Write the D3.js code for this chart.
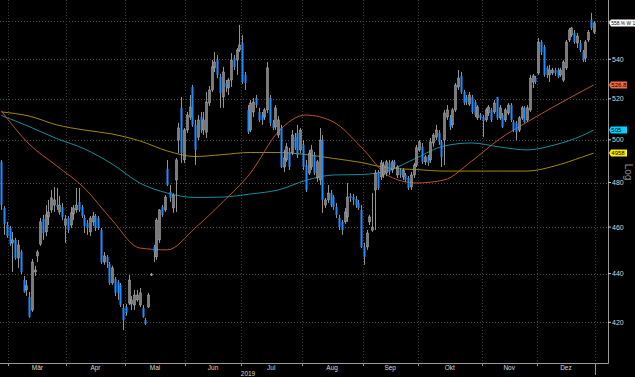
<!DOCTYPE html>
<html>
<head>
<meta charset="utf-8">
<script src="https://cdn.jsdelivr.net/npm/d3@7"></script>
<style>
  html, body { margin: 0; padding: 0; background: #000; overflow: hidden; }
  text { font-family: "Liberation Sans", Arial, sans-serif; }
</style>
</head>
<body>
<div id="chart"></div>
<script>
// Frame
const width = 635, height = 377;
const plotRight = 608, plotBottom = 363;

// Month labels and the trading-day index of the first session of each month (0 = 1 Mar 2019)
const months = ["Mär", "Apr", "Mai", "Jun", "Jul", "Aug", "Sep", "Okt", "Nov", "Dez"];
const monthStart = [0, 21, 42, 64, 84, 106, 128, 148, 171, 191, 212];
const firstDay = -3;

// Daily candles [open, high, low, close], one small array per month
const ohlcFeb = [[489.6,490.5,467.6,469.8],[468.5,469.4,456.6,461.4],[460.9,462.3,455.3,456.1]];
const ohlcMar = [
  [459.6,460.5,451.8,452.6],[453.1,457.9,440.7,454.4],[454.4,455.3,445.8,446.6],[446.6,454.4,442.4,452.2],
  [449.2,450.1,439.8,440.7],[437.3,439.0,432.0,432.4],[433.2,437.3,430.7,434.9],[430.3,432.4,421.8,422.2],
  [425.0,446.2,424.2,444.9],[440.7,443.3,439.0,441.5],[447.5,450.1,444.9,449.2],[452.6,464.0,451.8,462.3],
  [463.6,465.4,454.4,457.4],[457.9,469.8,456.1,465.4],[464.5,472.1,460.9,466.7],[467.6,476.6,466.3,473.0],
  [469.8,478.0,466.7,472.1],[469.8,477.5,467.6,468.9],[466.7,473.9,465.4,469.8],[468.9,470.7,463.1,464.5],
  [460.9,465.4,453.1,463.6]];
const ohlcApr = [
  [464.0,464.9,457.4,458.7],[460.9,468.9,459.6,466.3],[465.8,469.8,463.1,468.5],[467.6,477.5,466.3,469.8],
  [471.2,477.5,466.7,467.6],[468.9,469.8,464.0,464.9],[464.0,465.4,457.4,460.5],[461.8,463.1,456.6,459.6],
  [457.9,464.9,456.1,464.0],[462.3,466.7,460.5,464.9],[464.9,465.8,458.3,459.6],[464.0,464.9,458.7,459.6],
  [458.7,459.6,444.1,444.9],[444.9,449.2,443.7,447.5],[447.1,447.9,442.4,444.5],[444.1,444.9,435.3,436.1],
  [436.1,443.3,435.3,442.4],[437.7,438.6,430.7,432.0],[436.5,437.3,429.1,432.0],[435.3,436.1,426.2,427.0],
  [425.8,427.4,416.9,420.9]];
const ohlcMay = [
  [426.2,427.4,422.6,423.8],[427.8,439.4,427.0,437.3],[427.4,430.7,425.0,429.1],[427.0,433.2,425.0,431.1],
  [429.1,433.2,428.3,431.1],[427.0,434.0,426.2,432.0],[425.8,427.0,421.8,422.2],[420.9,421.8,418.9,419.3],
  [426.2,432.0,425.8,431.1],[439.4,440.3,439.0,439.8],[451.4,452.2,444.9,449.2],[447.1,464.0,445.8,463.1],
  [454.4,468.0,453.1,467.6],[468.9,469.8,464.5,465.4],[467.6,474.3,466.7,473.4],[486.3,490.5,478.4,478.9],
  [475.7,478.9,471.2,473.0],[468.5,475.2,466.3,474.3],[481.2,491.4,466.7,490.5],[499.9,508.2,493.7,505.7],
  [515.5,520.9,489.1,493.7],[490.5,505.7,489.1,504.7]];
const ohlcJun = [
  [504.7,513.5,503.3,512.0],[511.0,521.9,509.6,515.9],[525.9,526.9,506.2,507.2],[507.2,509.6,488.1,495.2],
  [501.3,512.0,499.9,509.6],[511.0,513.5,503.3,504.7],[504.7,513.5,502.3,509.6],[503.7,523.4,500.9,518.4],
  [517.9,526.4,516.4,524.4],[524.4,539.6,523.4,536.1],[535.6,543.8,533.5,538.6],[539.6,542.2,530.4,532.0],
  [531.0,532.5,515.5,522.9],[520.9,536.1,515.5,533.5],[527.9,529.4,523.4,525.9],[525.4,530.4,521.9,529.4],
  [529.4,543.2,525.9,539.6],[540.6,542.2,534.5,536.1],[539.6,545.8,532.0,544.8],[544.8,558.0,543.8,547.4]];
const ohlcJul = [
  [548.5,552.7,527.4,528.4],[532.0,533.5,524.4,527.9],[514.5,516.9,502.8,503.7],[504.7,519.4,503.7,517.9],
  [513.5,520.4,511.0,518.4],[520.4,521.9,515.5,516.9],[513.5,515.5,508.6,509.6],[512.0,513.5,507.2,509.6],
  [511.0,515.5,509.6,514.5],[514.5,538.6,513.0,535.6],[520.4,521.9,506.7,508.2],[508.2,509.6,504.7,505.7],
  [506.2,516.9,504.7,515.5],[502.3,511.5,500.9,509.6],[505.7,507.2,486.7,487.2],[487.2,495.2,484.9,491.4],
  [490.5,498.5,489.6,496.7],[494.3,496.2,485.8,487.2],[493.8,504.7,492.8,502.3],[501.3,503.3,495.2,496.2],
  [503.3,507.2,491.4,492.8],[495.2,505.7,493.7,504.7]];
const ohlcAug = [
  [497.6,499.9,485.8,487.2],[488.1,490.5,475.7,476.6],[484.4,495.2,483.5,493.7],[487.2,497.6,485.8,495.2],
  [492.8,494.3,483.5,484.4],[482.1,490.5,480.3,489.6],[481.2,505.7,478.9,499.9],[499.9,502.3,466.3,472.1],
  [469.8,473.0,468.5,472.1],[472.1,478.9,470.7,475.2],[475.2,476.6,468.9,469.8],[473.4,474.3,467.6,468.9],
  [468.9,470.7,464.0,465.4],[464.0,465.4,458.7,460.0],[462.3,463.1,456.6,458.7],[462.3,468.5,461.4,466.7],
  [464.5,479.8,462.3,473.4],[473.9,475.2,471.2,473.0],[473.4,474.8,469.8,472.1],[472.5,473.9,468.5,469.8],
  [470.7,472.1,467.6,468.5],[467.6,469.8,450.9,451.4]];
const ohlcSep = [
  [451.4,453.1,443.7,447.1],[451.4,458.7,450.1,457.4],[462.3,465.4,460.9,464.5],[458.7,475.2,457.9,460.0],
  [476.6,485.8,458.7,484.4],[484.9,485.8,476.6,477.5],[482.6,490.5,481.2,489.1],[483.5,489.6,482.1,488.1],
  [484.4,490.5,483.0,489.6],[489.1,490.5,483.5,484.9],[485.8,490.5,484.4,489.6],[489.6,490.5,486.7,488.1],
  [483.5,488.1,482.1,487.2],[485.8,486.7,482.1,483.5],[482.6,486.7,481.2,485.8],[483.5,484.4,480.3,481.2],
  [482.1,483.0,476.6,477.5],[478.0,484.9,476.6,483.5],[483.5,489.1,482.1,488.1],[488.1,497.6,487.2,496.2]];
const ohlcOct = [
  [495.2,499.9,494.3,499.0],[496.7,498.5,488.6,489.6],[489.6,492.8,488.1,491.9],[491.9,492.8,487.7,489.1],
  [490.5,500.9,489.1,499.0],[498.5,503.3,496.7,502.3],[501.3,507.2,499.9,504.7],[503.3,504.7,497.6,499.0],
  [499.0,499.9,487.2,491.9],[499.9,514.5,488.1,513.0],[511.0,516.9,509.6,514.5],[510.6,512.0,504.7,506.2],
  [507.2,515.5,505.7,514.5],[514.5,527.9,513.5,526.9],[525.9,534.5,524.4,530.4],[531.5,533.5,522.4,523.4],
  [523.4,524.4,516.9,517.9],[520.9,521.9,516.9,518.4],[517.4,523.4,516.4,521.9],[520.9,521.9,512.5,513.5],
  [518.4,519.4,511.0,512.0],[510.6,516.9,509.6,515.9],[512.0,513.0,509.6,510.6]];
const ohlcNov = [
  [511.0,512.0,501.3,509.1],[509.6,515.5,508.6,514.5],[513.0,516.9,511.5,515.9],[514.5,515.5,508.6,509.6],
  [513.5,519.4,512.5,517.9],[520.9,520.9,509.6,510.6],[510.6,516.9,509.6,515.5],[512.0,513.0,505.7,506.2],
  [509.6,515.5,508.6,514.5],[513.0,517.9,512.0,516.9],[516.9,517.9,508.6,509.6],[508.6,509.6,503.7,504.7],
  [508.2,509.1,499.9,503.7],[504.7,511.5,503.7,510.6],[510.6,516.4,509.6,515.5],[515.5,516.4,508.2,508.6],
  [509.6,516.9,508.6,515.5],[514.5,532.0,513.5,530.4],[528.4,532.5,525.4,531.5],[530.4,531.5,527.4,528.4]];
const ohlcDec = [
  [533.0,551.1,532.0,549.0],[549.0,550.1,542.2,543.8],[546.4,547.4,531.0,532.0],[535.6,536.6,530.4,532.0],
  [532.0,537.1,528.4,534.5],[533.0,535.6,532.0,534.5],[534.5,535.6,531.5,533.0],[534.5,535.6,530.4,531.0],
  [532.0,535.6,531.0,534.5],[529.4,539.6,528.4,538.6],[535.6,550.1,534.5,549.0],[550.1,556.4,549.0,555.3],
  [552.7,557.0,551.6,556.4],[553.7,555.3,548.0,549.0],[548.5,553.7,545.8,552.1],[548.5,550.1,543.8,544.8],
  [543.8,544.8,538.6,539.6],[540.6,550.1,538.6,549.0],[550.1,555.3,549.0,554.2],[560.7,564.5,555.3,556.4],
  [554.2,560.1,553.2,559.1]];

// Moving averages, read every 10 sessions
const maDays = [-3, 7, 17, 27, 37, 47, 57, 67, 77, 87, 97, 107, 117, 127, 137, 147, 157, 167, 177, 187, 197, 207, 211];
const maOrange = [514.0, 498.0, 487.7, 477.5, 463.1, 450.9, 450.1, 459.6, 471.2, 484.4, 503.8, 512.0,
                  508.6, 496.6, 483.0, 479.8, 481.2, 490.0, 500.4, 508.6, 516.4, 523.9, 526.9];
const maTeal = [511.8, 506.4, 500.6, 495.7, 488.6, 479.8, 475.2, 473.2, 473.4, 474.8, 476.6, 481.0,
                483.5, 483.7, 485.6, 491.4, 497.1, 498.5, 496.6, 495.2, 497.6, 502.1, 504.7];
const maYellow = [513.5, 511.5, 507.2, 504.7, 502.8, 499.5, 494.7, 492.1, 493.0, 494.0, 494.0, 493.0,
                  491.2, 489.3, 486.7, 486.0, 485.3, 485.3, 485.3, 485.3, 487.7, 491.9, 493.7];

// Axis ticks and right-hand tags
const yTicks = [420, 440, 460, 480, 500, 520, 540, 560];
const tags = [
  { label: "558.% W 1", value: 559.1, fill: "#ffffff", w: 24, size: 4.9 },
  { label: "526.82", value: 526.9, fill: "#f26b43", w: 16, size: 6 },
  { label: "505", value: 504.7, fill: "#00d2ff", w: 16, size: 6 },
  { label: "4958", value: 493.7, fill: "#ffea00", w: 16, size: 6 }
];

const candles = [].concat(ohlcFeb, ohlcMar, ohlcApr, ohlcMay, ohlcJun, ohlcJul,
                          ohlcAug, ohlcSep, ohlcOct, ohlcNov, ohlcDec)
  .map((d, i) => ({ day: firstDay + i, o: d[0], h: d[1], l: d[2], c: d[3] }));

const svg = d3.select("#chart").append("svg")
  .attr("width", width)
  .attr("height", height)
  .style("background", "#000");

// Scales: one slot per trading session, log price axis
const x = d3.scaleLinear()
  .domain([-0.5, 211.5])
  .range([8.3, 595]);
const y = d3.scaleLog()
  .domain([403.98, 571.48])
  .range([plotBottom, 0]);

// Grid
svg.append("g").selectAll("line")
  .data(yTicks)
  .join("line")
    .attr("x1", 0).attr("x2", plotRight)
    .attr("y1", d => Math.round(y(d)) + 0.5).attr("y2", d => Math.round(y(d)) + 0.5)
    .attr("stroke", "#4a4a4a")
    .attr("stroke-dasharray", "1,2");

svg.append("g").selectAll("line")
  .data(monthStart)
  .join("line")
    .attr("x1", d => Math.round(x(d - 0.5)) + 0.5).attr("x2", d => Math.round(x(d - 0.5)) + 0.5)
    .attr("y1", 0).attr("y2", plotBottom)
    .attr("stroke", "#3c3c3c")
    .attr("stroke-dasharray", "1,2");

// Moving averages
const maLine = vals => d3.line()
  .x((d, i) => x(maDays[i]))
  .y(d => y(d))
  .curve(d3.curveMonotoneX)(vals);

[[maYellow, "#a08a00"], [maTeal, "#138f9c"], [maOrange, "#b5532a"]].forEach(([vals, col]) => {
  svg.append("path")
    .attr("d", maLine(vals))
    .attr("fill", "none")
    .attr("stroke", col)
    .attr("stroke-width", 1);
});

// Candles
const g = svg.append("g");
const up = d => d.c >= d.o;

g.selectAll("line.wick")
  .data(candles)
  .join("line")
    .attr("class", "wick")
    .attr("x1", d => Math.round(x(d.day)) + 0.5)
    .attr("x2", d => Math.round(x(d.day)) + 0.5)
    .attr("y1", d => y(d.h))
    .attr("y2", d => y(d.l))
    .attr("stroke", "#939393")
    .attr("stroke-width", 1);

g.selectAll("rect.body")
  .data(candles)
  .join("rect")
    .attr("class", "body")
    .attr("x", d => Math.round(x(d.day)) - 0.5)
    .attr("width", 2)
    .attr("y", d => y(Math.max(d.o, d.c)))
    .attr("height", d => Math.max(1, Math.abs(y(d.o) - y(d.c))))
    .attr("fill", d => up(d) ? "#7c7c7c" : "#1e8cff")
    .attr("stroke", d => up(d) ? "#b4b4b4" : "none")
    .attr("stroke-width", 0.5);

// Axes lines
svg.append("line")
  .attr("x1", 0).attr("x2", plotRight + 0.5)
  .attr("y1", plotBottom + 0.5).attr("y2", plotBottom + 0.5)
  .attr("stroke", "#9a9a9a");
svg.append("line")
  .attr("x1", plotRight + 0.5).attr("x2", plotRight + 0.5)
  .attr("y1", 0).attr("y2", plotBottom + 0.5)
  .attr("stroke", "#9a9a9a");

// Right price axis
const ya = svg.append("g");
ya.selectAll("line")
  .data(yTicks)
  .join("line")
    .attr("x1", plotRight).attr("x2", plotRight + 3)
    .attr("y1", d => y(d)).attr("y2", d => y(d))
    .attr("stroke", "#cfcfcf");
ya.selectAll("text")
  .data(yTicks.filter(d => d < 560))
  .join("text")
    .attr("x", plotRight + 4)
    .attr("y", d => y(d) + 2.5)
    .attr("font-size", 7)
    .attr("fill", "#d8d8d8")
    .text(d => d);

svg.append("text")
  .attr("transform", "translate(625,172) rotate(90)")
  .attr("text-anchor", "middle")
  .attr("font-size", 10)
  .attr("fill", "#8a8a8a")
  .text("Log");

// Tags on the right edge
tags.forEach(t => {
  const cy = y(t.value);
  svg.append("path")
    .attr("d", `M${plotRight + 1},${cy} L${plotRight + 3},${cy - 3.5} L${plotRight + 3 + t.w},${cy - 3.5} L${plotRight + 3 + t.w},${cy + 3.5} L${plotRight + 3},${cy + 3.5} Z`)
    .attr("fill", t.fill);
  svg.append("text")
    .attr("x", plotRight + 3.3)
    .attr("y", cy + 2.1)
    .attr("font-size", t.size)
    .attr("fill", "#000")
    .text(t.label);
});

// Bottom time axis
const xa = svg.append("g");
xa.selectAll("line")
  .data(monthStart)
  .join("line")
    .attr("x1", d => Math.round(x(d - 0.5)) + 0.5).attr("x2", d => Math.round(x(d - 0.5)) + 0.5)
    .attr("y1", plotBottom).attr("y2", (d, i) => i === monthStart.length - 1 ? plotBottom + 12 : plotBottom + 3)
    .attr("stroke", "#9a9a9a");
xa.selectAll("text")
  .data(months)
  .join("text")
    .attr("x", (d, i) => (x(monthStart[i] - 0.5) + x(monthStart[i + 1] - 0.5)) / 2)
    .attr("y", 369.5)
    .attr("text-anchor", "middle")
    .attr("font-size", 6.5)
    .attr("fill", "#d8d8d8")
    .text(d => d);
svg.append("text")
  .attr("x", 248)
  .attr("y", 375.5)
  .attr("text-anchor", "middle")
  .attr("font-size", 6.5)
  .attr("fill", "#d8d8d8")
  .text("2019");
</script>
</body>
</html>
